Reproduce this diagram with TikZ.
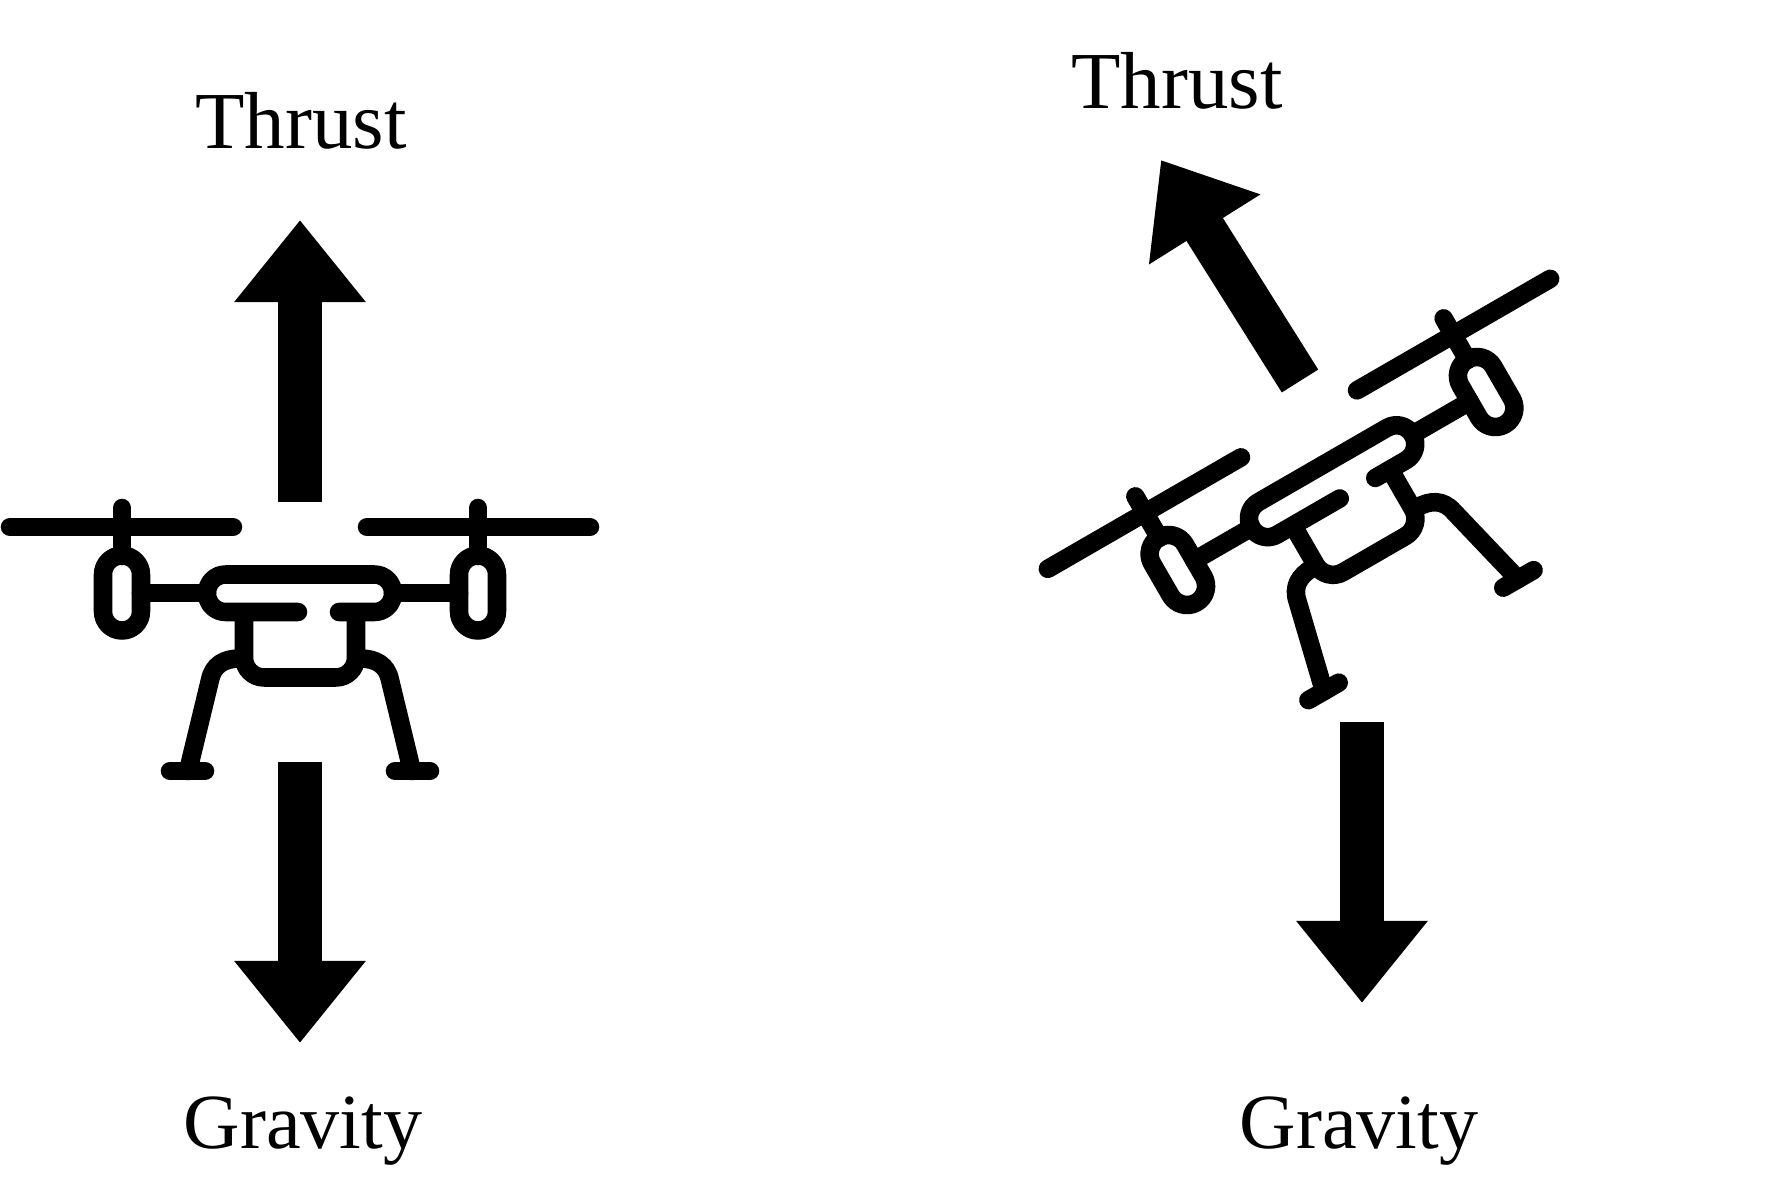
\documentclass[tikz,border=0pt]{standalone}
\usepackage{fontspec}
\setmainfont{Liberation Serif}
\usetikzlibrary{arrows.meta}
\tikzset{
  force/.style={-{Triangle[length=0.82cm,width=1.26cm]},line width=0.43cm,black},
  labeltext/.style={font=\fontsize{23}{23}\selectfont,anchor=base},
  gravitytext/.style={font=\fontsize{22.2}{23}\selectfont,anchor=base},
  part/.style={line width=0.185cm,line cap=round,line join=round,black},
  drone/.pic={
    \draw[part] (-290,-66)--(-67,-66);
    \draw[part] (67,-66)--(290,-66);
    \foreach \sgn in {-1,1}{
      \draw[part] (\sgn*178,-85)--(\sgn*178,-37);
      \draw[part,rounded corners=0.19cm] (\sgn*197,-37.5) rectangle (\sgn*159,37.5);
      \draw[part] (\sgn*159,0)--(\sgn*93,0);
      \draw[part] (\sgn*60,65.5) .. controls (\sgn*76,65.5) and (\sgn*87,72) .. (\sgn*90,87)--(\sgn*112,178);
      \draw[part] (\sgn*130,178)--(\sgn*95,178);
    }
    \draw[part,rounded corners=0.185cm] (-2,19)--(-93,19)--(-93,-18.5)--(93,-18.5)--(93,19)--(39,19);
    \draw[part,line cap=butt,rounded corners=0.2cm] (-56,19)--(-56,84.5)--(56,84.5)--(56,19);
  }
}
\begin{document}
\begin{tikzpicture}[x=0.01cm,y=-0.01cm]
\useasboundingbox (0,0) rectangle (1768,1200);
\pic at (300,593) {drone};
\pic[rotate=30] at (1332,481) {drone};
\node[labeltext] (thrustl) at (301,149) {Thrust};
\node[gravitytext] (gravityl) at (303,1148) {Gravity};
\node[labeltext] (thrustr) at (1177,108) {Thrust};
\node[gravitytext] (gravityr) at (1359,1148) {Gravity};
\coordinate (upl0) at (300,502);
\coordinate (upl1) at (300,220);
\coordinate (dnl0) at (300,762);
\coordinate (dnl1) at (300,1043);
\coordinate (upr0) at (1300,381);
\coordinate (upr1) at (1161,160);
\coordinate (dnr0) at (1362,722);
\coordinate (dnr1) at (1362,1003);
\draw[force] (upl0)--(upl1);
\draw[force] (dnl0)--(dnl1);
\draw[force] (upr0)--(upr1);
\draw[force] (dnr0)--(dnr1);
\end{tikzpicture}
\end{document}
